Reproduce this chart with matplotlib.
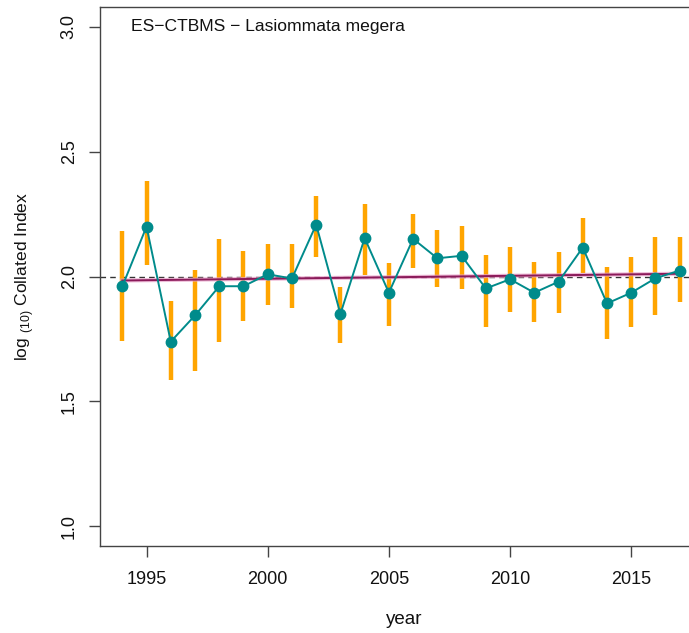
import matplotlib
matplotlib.use("Agg")
import matplotlib.pyplot as plt
import numpy as np

plt.rcParams['font.family'] = ['Liberation Sans', 'DejaVu Sans']
plt.rcParams['mathtext.fontset'] = 'custom'
plt.rcParams['mathtext.rm'] = 'Liberation Sans'

# collated index per year (log10) with its confidence limits
years = [1994, 1995, 1996, 1997, 1998, 1999, 2000, 2001, 2002, 2003, 2004, 2005,
         2006, 2007, 2008, 2009, 2010, 2011, 2012, 2013, 2014, 2015, 2016, 2017]
index = [1.960, 2.200, 1.739, 1.844, 1.961, 1.961, 2.009, 1.992, 2.208, 1.850, 2.154, 1.935,
         2.151, 2.073, 2.083, 1.952, 1.989, 1.935, 1.979, 2.116, 1.892, 1.935, 1.993, 2.024]
upper = [2.184, 2.382, 1.901, 2.027, 2.150, 2.104, 2.131, 2.131, 2.322, 1.957, 2.289, 2.055,
         2.251, 2.187, 2.204, 2.087, 2.119, 2.057, 2.097, 2.235, 2.040, 2.077, 2.158, 2.158]
lower = [1.741, 2.047, 1.586, 1.623, 1.739, 1.821, 1.887, 1.872, 2.080, 1.734, 2.008, 1.802,
         2.035, 1.957, 1.951, 1.797, 1.856, 1.816, 1.852, 2.013, 1.750, 1.797, 1.847, 1.896]

# linear trend at the first and last year
trend_years = [1994, 2017]
trend_vals = [1.984, 2.011]

teal = '#008B8B'
orange = '#FFA500'

fig = plt.figure(figsize=(6.89, 6.33), dpi=100)
ax = fig.add_axes([100 / 689, 1 - 546 / 633, 602 / 689, 539 / 633])

ax.vlines(years, lower, upper, color=orange, linewidth=3.2, zorder=2)
ax.axhline(2.0, color='#333333', linestyle=(0, (4, 3)), linewidth=1.0, zorder=1)
ax.plot(trend_years, trend_vals, color='#E8A0C8', linewidth=3.0, alpha=0.7, zorder=3)
ax.plot(trend_years, trend_vals, color='#8B1A5A', linewidth=1.4, zorder=3)
ax.plot(years, index, color=teal, linewidth=1.4, marker='o', markersize=7.5,
        markerfacecolor=teal, markeredgecolor=teal, zorder=4)

span = years[-1] - years[0]
ax.set_xlim(years[0] - 0.04 * span, years[-1] + 0.04 * span)
ax.set_ylim(0.92, 3.08)
ax.set_xticks([1995, 2000, 2005, 2010, 2015])
ax.set_yticks([1.0, 1.5, 2.0, 2.5, 3.0])
ax.set_yticklabels(['1.0', '1.5', '2.0', '2.5', '3.0'], rotation=90, va='center')

for s in ax.spines.values():
    s.set_color('#444444')
    s.set_linewidth(1.0)
ax.tick_params(axis='both', length=8, width=1.0, color='#444444', labelsize=13,
               labelcolor='#111111')
ax.tick_params(axis='x', pad=10)
ax.tick_params(axis='y', pad=8)

ax.text(0.052, 0.963, 'ES\u2212CTBMS \u2212 Lasiommata megera', transform=ax.transAxes,
        fontsize=12.6, ha='left', va='center', color='#111111')

fig.text(404 / 689, 1 - 620 / 633, 'year', ha='center', va='center', fontsize=13.5,
         color='#111111')
fig.text(25 / 689, 1 - 276 / 633, r'log $_{\mathrm{(10)}}$ Collated Index', rotation=90,
         ha='center', va='center', fontsize=12.6, color='#111111')

fig.savefig('out.png', dpi=100)
